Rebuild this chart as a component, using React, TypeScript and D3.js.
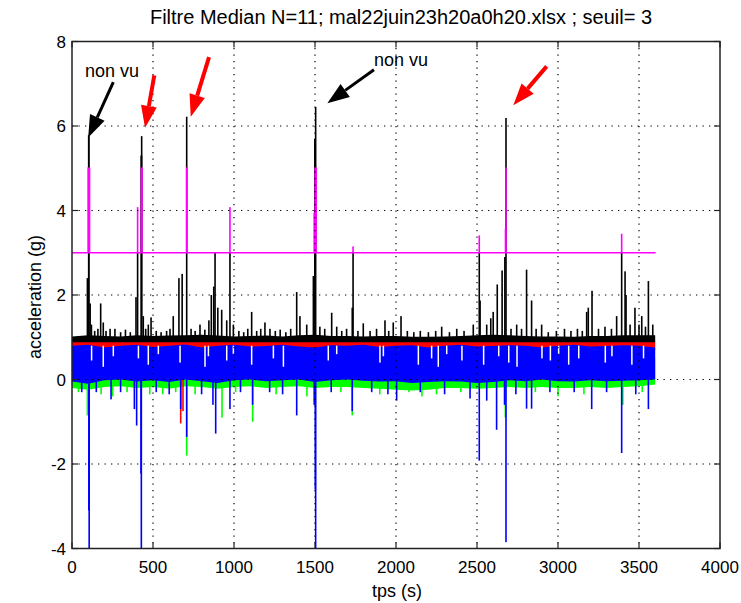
import * as d3 from 'd3';

// envelopes of the dense noise, one value every 100 s (0 .. 3600 s)
const bandTimes = d3.range(0, 3601, 100);
const blackTop = [1.02, 1.05, 1.03, 1.02, 1.05, 1.03, 1.04, 1.05, 1.06, 1.04, 1.02, 1.03, 1.04, 1.02, 1.05, 1.06, 1.03, 1.03, 1.02, 1.03, 1.03, 1.01, 1.01, 1.02, 1.03, 1.05, 1.06, 1.05, 1.03, 1.02, 1.02, 1.01, 1.03, 1.03, 1.05, 1.05, 1.05];
const redBottom = [0.7, 0.68, 0.72, 0.7, 0.68, 0.72, 0.7, 0.66, 0.7, 0.72, 0.7, 0.72, 0.7, 0.68, 0.72, 0.7, 0.68, 0.72, 0.7, 0.72, 0.7, 0.68, 0.7, 0.72, 0.68, 0.7, 0.68, 0.7, 0.72, 0.7, 0.68, 0.7, 0.72, 0.68, 0.7, 0.7, 0.7];
const blueTop = [0.8, 0.82, 0.76, 0.8, 0.82, 0.77, 0.8, 0.83, 0.76, 0.8, 0.82, 0.78, 0.79, 0.82, 0.78, 0.76, 0.81, 0.8, 0.82, 0.77, 0.8, 0.81, 0.76, 0.8, 0.82, 0.78, 0.79, 0.81, 0.8, 0.76, 0.8, 0.82, 0.78, 0.79, 0.81, 0.8, 0.76];
const blueBottom = [-0.05, -0.1, -0.02, 0.0, -0.05, -0.02, -0.06, 0.0, -0.04, -0.08, -0.02, 0.0, -0.04, -0.02, 0.0, -0.06, -0.02, 0.0, -0.03, -0.05, -0.04, -0.08, -0.06, -0.04, -0.05, -0.08, -0.06, -0.02, -0.04, 0.0, -0.04, -0.05, -0.02, -0.04, -0.03, -0.02, 0.0];
const greenBottom = [-0.2, -0.24, -0.18, -0.16, -0.2, -0.18, -0.22, -0.16, -0.18, -0.22, -0.18, -0.16, -0.2, -0.18, -0.16, -0.2, -0.18, -0.18, -0.2, -0.22, -0.24, -0.26, -0.24, -0.2, -0.2, -0.22, -0.2, -0.18, -0.2, -0.18, -0.2, -0.2, -0.18, -0.2, -0.18, -0.16, -0.12];

// spikes: [time (s), value (g), width (s)]
const blackSpikes = [
  [95, 2.4, 6], [104, 5.78, 12], [112, 1.8, 4], [120, 1.3, 3], [140, 1.15, 1], [160, 1.2, 1], [177, 1.8, 1], [193, 1.35, 1],
  [210, 1.15, 1], [235, 1.2, 1], [265, 1.2, 1], [300, 1.12, 1], [330, 1.18, 1], [360, 1.12, 1],
  [395, 1.95, 3], [405, 3.0, 1], [428, 5.3, 12], [430, 5.76, 3], [440, 1.5, 2], [455, 1.2, 1], [471, 1.3, 1], [488, 1.47, 1],
  [520, 1.15, 1], [550, 1.12, 1], [584, 1.15, 1], [605, 1.2, 1],
  [625, 1.5, 1], [660, 2.4, 2], [680, 2.5, 2], [708, 6.22, 1.5], [735, 1.2, 1], [760, 1.15, 1], [790, 1.3, 1], [820, 1.18, 1],
  [845, 1.4, 1], [860, 2.0, 3], [875, 2.2, 3], [883, 3.0, 1.5],
  [900, 1.7, 2], [924, 1.65, 1], [955, 1.4, 1], [975, 3.0, 1.5], [996, 1.3, 1], [1030, 1.15, 1], [1060, 1.12, 1], [1085, 1.2, 1],
  [1109, 1.6, 1], [1140, 1.15, 1], [1165, 1.2, 1], [1191, 1.35, 1], [1222, 1.2, 1], [1255, 1.15, 1], [1285, 1.18, 1],
  [1320, 1.12, 1], [1350, 1.2, 1],
  [1387, 2.07, 1], [1407, 1.5, 1], [1449, 1.3, 1], [1490, 2.45, 6], [1500, 5.7, 12], [1504, 6.45, 1.5], [1530, 1.25, 1],
  [1560, 1.2, 1], [1603, 1.58, 1],
  [1634, 1.25, 1], [1665, 1.15, 1], [1695, 1.2, 1], [1730, 1.7, 2], [1735, 3.0, 1], [1765, 1.15, 1], [1798, 1.33, 1],
  [1840, 1.15, 1], [1880, 1.2, 1], [1932, 1.4, 1], [1955, 1.15, 1], [1983, 1.35, 1],
  [2031, 1.5, 1], [2070, 1.15, 1], [2110, 1.12, 1], [2150, 1.15, 1], [2200, 1.12, 1], [2245, 1.15, 1], [2282, 1.25, 1],
  [2330, 1.12, 1], [2375, 1.2, 1], [2420, 1.15, 1], [2477, 1.3, 1], [2514, 3.0, 1.5], [2519, 1.87, 4], [2560, 1.3, 1],
  [2585, 1.45, 2], [2600, 1.6, 2],
  [2625, 2.25, 2], [2655, 2.58, 6], [2672, 2.9, 4], [2679, 6.19, 1.5], [2710, 1.2, 1], [2745, 1.3, 1], [2775, 1.2, 1],
  [2806, 2.6, 1.5], [2837, 1.87, 1.5], [2865, 1.2, 1],
  [2899, 1.3, 1], [2940, 1.12, 1], [2990, 1.15, 1], [3040, 1.2, 1], [3080, 1.15, 1], [3120, 1.2, 1], [3150, 1.15, 1],
  [3177, 1.6, 1], [3187, 1.7, 1], [3210, 2.1, 1.5], [3250, 1.2, 1], [3290, 1.25, 1], [3330, 1.2, 1], [3362, 1.5, 1],
  [3393, 3.0, 1.5], [3414, 2.56, 1.5], [3420, 2.0, 2], [3445, 1.3, 1], [3475, 1.7, 1], [3500, 1.3, 1], [3517, 1.5, 1],
  [3540, 1.25, 1], [3558, 2.33, 1.5], [3585, 1.3, 1],
];
const magentaSpikes = [
  [104, 5.02, 18], [405, 4.08, 2], [430, 5.02, 14], [708, 5.02, 1.5], [975, 4.08, 2], [1495, 3.95, 4], [1504, 5.02, 16],
  [1735, 3.15, 2], [2514, 3.41, 2], [2676, 3.57, 5], [2679, 5.02, 1.5], [3393, 3.45, 2],
];
const blueDips = [
  [60, -0.3, 1], [104, -3.1, 5], [106, -4, 1], [150, -0.3, 1], [241, -0.47, 1], [300, -0.3, 1], [385, -0.7, 1],
  [399, -1.09, 2], [426, -2.23, 3], [428, -4, 1], [520, -0.3, 1], [600, -0.35, 1], [671, -0.7, 1], [708, -1.36, 1],
  [800, -0.35, 1], [870, -0.6, 2], [887, -1.28, 2], [975, -0.7, 1], [1040, -0.3, 1], [1115, -0.6, 1], [1220, -0.3, 1],
  [1300, -0.35, 1], [1387, -0.85, 1], [1495, -0.6, 2], [1502, -2.6, 3], [1504, -4, 1], [1600, -0.3, 1], [1730, -0.75, 1],
  [1850, -0.3, 1], [1950, -0.35, 1], [2004, -0.5, 1], [2150, -0.3, 1], [2300, -0.35, 1], [2457, -0.45, 1],
  [2514, -1.92, 1.5], [2560, -0.5, 1], [2621, -1.19, 1], [2670, -0.6, 3], [2679, -3.85, 1], [2740, -0.35, 1],
  [2806, -0.69, 1], [2837, -0.69, 1], [2950, -0.3, 1], [3100, -0.3, 1], [3208, -0.7, 1], [3300, -0.3, 1],
  [3393, -1.74, 1], [3480, -0.35, 1], [3558, -0.7, 1],
];
const greenDips = [
  [40, -0.3, 1], [95, -0.85, 1.5], [180, -0.35, 1], [250, -0.4, 1], [340, -0.3, 1], [480, -0.35, 1], [560, -0.35, 1],
  [640, -0.3, 1], [708, -1.8, 1], [760, -0.35, 1], [926, -0.9, 1], [1010, -0.3, 1], [1115, -1.0, 1], [1260, -0.35, 1],
  [1450, -0.4, 1], [1660, -0.3, 1], [1730, -0.85, 1], [1900, -0.35, 1], [2080, -0.3, 1], [2160, -0.4, 1], [2250, -0.35, 1],
  [2400, -0.3, 1], [2675, -0.9, 1], [2860, -0.3, 1], [3000, -0.4, 1], [3160, -0.35, 1], [3400, -0.6, 1], [3520, -0.3, 1],
];
const redDips = [[671, -1.04, 1], [685, -0.75, 1], [2040, 0.4, 1], [2530, 0.5, 1]];

// white gaps inside the blue band: [time (s), lowest value (g)]
const blueGaps = [
  [121, 0.45], [193, 0.3], [255, 0.55], [410, 0.5], [471, 0.35], [533, 0.6], [667, 0.4], [821, 0.3], [842, 0.55],
  [955, 0.45], [996, 0.6], [1109, 0.35], [1243, 0.5], [1305, 0.3], [1582, 0.45], [1634, 0.6], [1901, 0.4], [1922, 0.55],
  [2138, 0.35], [2220, 0.5], [2261, 0.3], [2313, 0.6], [2407, 0.45], [2541, 0.35], [2634, 0.55], [2696, 0.4],
  [2747, 0.3], [2901, 0.5], [2953, 0.45], [3004, 0.6], [3066, 0.35], [3128, 0.5], [3292, 0.4], [3333, 0.55],
  [3456, 0.35], [3528, 0.5],
];

const seuil = 3;
const seuilEnd = 3603;

// annotations: [tailT, tailV, tipT, tipV]
const blackArrows = [[255, 7.04, 100, 5.73], [1864, 7.33, 1576, 6.54]];
const redArrows = [[508, 7.2, 451, 5.96], [846, 7.63, 733, 6.22], [2930, 7.41, 2724, 6.49]];
const labels = [[247, 7.15, 'non vu'], [2031, 7.43, 'non vu']];

const xTicks = [0, 500, 1000, 1500, 2000, 2500, 3000, 3500, 4000];
const yTicks = [-4, -2, 0, 2, 4, 6, 8];

const FONT = "'Liberation Sans', Arial, sans-serif";

export default function App() {
  const width = 741;
  const height = 603;
  const x = d3.scaleLinear().domain([0, 4000]).range([72, 720]);
  const y = d3.scaleLinear().domain([-4, 8]).range([548.5, 41.5]);

  const band = (lo: (i: number) => number, hi: (i: number) => number) =>
    d3.area<number>()
      .x(t => x(t))
      .y0((_, i) => y(lo(i)))
      .y1((_, i) => y(hi(i)))(bandTimes) || '';

  const spikes = (list: number[][], from: number, color: string, key: string) =>
    list.map((d, i) => {
      const w = Math.max(1.6, x(d[2]) - x(0));
      const y0 = Math.min(y(from), y(d[1]));
      const y1 = Math.max(y(from), y(d[1]));
      return <rect key={key + i} x={x(d[0]) - w / 2} y={y0} width={w} height={y1 - y0} fill={color} />;
    });

  const arrow = (a: number[], color: string, shaft: number, key: string) => {
    const x0 = x(a[0]), y0 = y(a[1]), x1 = x(a[2]), y1 = y(a[3]);
    const len = Math.hypot(x1 - x0, y1 - y0);
    const ux = (x1 - x0) / len, uy = (y1 - y0) / len;
    const head = 22, half = 8;
    const bx = x1 - ux * head, by = y1 - uy * head;
    const pts = [[x1, y1], [bx - uy * half, by + ux * half], [bx + uy * half, by - ux * half]];
    return (
      <g key={key}>
        <line x1={x0} y1={y0} x2={bx} y2={by} stroke={color} strokeWidth={shaft} />
        <polygon points={pts.map(p => p.join(',')).join(' ')} fill={color} />
      </g>
    );
  };

  const magentaLine = d3.line()([[x(0), y(seuil)], [x(seuilEnd), y(seuil)]]) || '';

  return (
    <svg width={width} height={height} style={{ position: 'absolute', left: 0, top: 0, background: '#fff' }}>
      <rect x={0} y={0} width={width} height={height} fill="#fff" />
      <g>
        <path d={band(i => greenBottom[i], () => 0.5)} fill="#00ff00" />
        {spikes(greenDips, 0, '#00ff00', 'g')}
        <path d={band(i => redBottom[i], () => 0.9)} fill="#ff0000" />
        {spikes(redDips, 0.6, '#ff0000', 'r')}
        <path d={band(i => blueBottom[i], i => blueTop[i])} fill="#0000ff" />
        {blueGaps.map((d, i) => (
          <rect key={'w' + i} x={x(d[0]) - 0.75} y={y(0.8)} width={1.5} height={y(d[1]) - y(0.8)} fill="#fff" />
        ))}
        {spikes(blueDips, 0.3, '#0000ff', 'b')}
        <path d={band(() => 0.88, i => blackTop[i])} fill="#000" />
        {spikes(blackSpikes, 0.95, '#000', 'k')}
        <path d={magentaLine} stroke="#ff00ff" strokeWidth={1.5} fill="none" />
        {spikes(magentaSpikes, seuil, '#ff00ff', 'm')}
      </g>

      {/* grid */}
      <g stroke="#000" strokeWidth={1.2} strokeDasharray="1.3,5.2">
        {xTicks.slice(1, -1).map(t => <line key={'gx' + t} x1={x(t)} x2={x(t)} y1={y(8)} y2={y(-4)} />)}
        {yTicks.slice(1, -1).map(v => <line key={'gy' + v} x1={x(0)} x2={x(4000)} y1={y(v)} y2={y(v)} />)}
      </g>

      {/* box and ticks */}
      <rect x={x(0)} y={y(8)} width={x(4000) - x(0)} height={y(-4) - y(8)} fill="none" stroke="#222" strokeWidth={1.5} />
      <g stroke="#222" strokeWidth={1.2}>
        {xTicks.map(t => (
          <g key={'tx' + t}>
            <line x1={x(t)} x2={x(t)} y1={y(-4)} y2={y(-4) - 6} />
            <line x1={x(t)} x2={x(t)} y1={y(8)} y2={y(8) + 6} />
          </g>
        ))}
        {yTicks.map(v => (
          <g key={'ty' + v}>
            <line x1={x(0)} x2={x(0) + 6} y1={y(v)} y2={y(v)} />
            <line x1={x(4000)} x2={x(4000) - 6} y1={y(v)} y2={y(v)} />
          </g>
        ))}
      </g>

      {/* annotations */}
      {blackArrows.map((a, i) => arrow(a, '#000', 3, 'ka' + i))}
      {redArrows.map((a, i) => arrow(a, '#ff0000', 4, 'ra' + i))}
      <g fontFamily={FONT} fontSize={18} fill="#000">
        {labels.map((l, i) => (
          <text key={'l' + i} x={x(l[0] as number)} y={y(l[1] as number)} textAnchor="middle">{l[2]}</text>
        ))}
      </g>

      {/* tick labels */}
      <g fontFamily={FONT} fontSize={17} fill="#000">
        {xTicks.map(t => (
          <text key={'lx' + t} x={x(t)} y={y(-4) + 24} textAnchor="middle">{t}</text>
        ))}
        {yTicks.map(v => (
          <text key={'ly' + v} x={x(0) - 6} y={y(v) + 6} textAnchor="end">{v}</text>
        ))}
        <text x={397} y={597} textAnchor="middle" fontSize={18}>tps (s)</text>
        <text transform={`translate(41, ${297}) rotate(-90)`} textAnchor="middle" fontSize={18}>acceleration (g)</text>
        <text x={401} y={24} textAnchor="middle" fontSize={20}>Filtre Median N=11; mal22juin23h20a0h20.xlsx ; seuil= 3</text>
      </g>
    </svg>
  );
}
